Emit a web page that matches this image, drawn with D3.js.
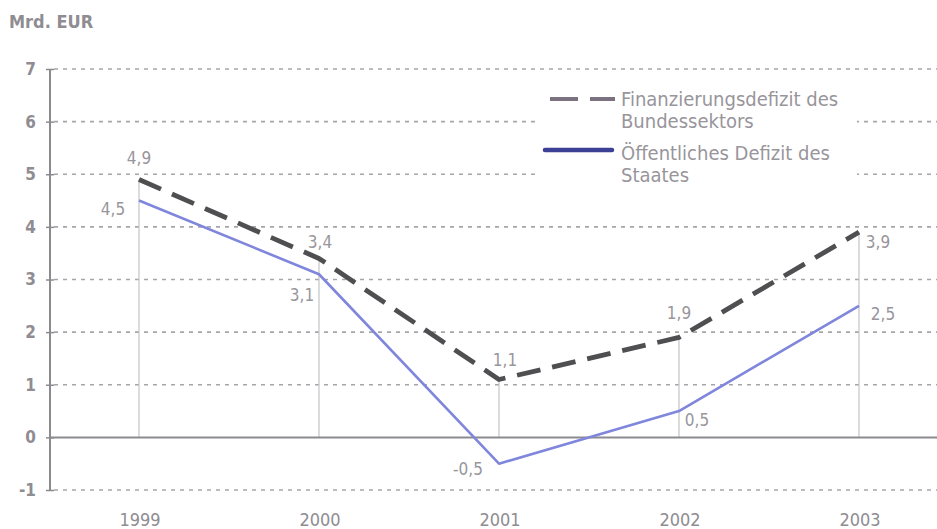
<!DOCTYPE html>
<html>
<head>
<meta charset="utf-8">
<script src="https://cdn.jsdelivr.net/npm/d3@7"></script>
<style>
  html, body { margin: 0; padding: 0; background: #fff; }
  svg { display: block; }
  text { font-family: "DejaVu Sans Condensed", "Open Sans", sans-serif; }
</style>
</head>
<body>
<svg id="chart" width="937" height="529"></svg>
<script>
// Data
const years = ["1999", "2000", "2001", "2002", "2003"];
const bundessektor = [4.9, 3.4, 1.1, 1.9, 3.9];   // Finanzierungsdefizit des Bundessektors
const staat = [4.5, 3.1, -0.5, 0.5, 2.5];          // Öffentliches Defizit des Staates
const yTicks = [-1, 0, 1, 2, 3, 4, 5, 6, 7];
const seriesNames = ["Finanzierungsdefizit des|Bundessektors", "Öffentliches Defizit des|Staates"];

const fmt = v => String(v).replace(".", ",");

const svg = d3.select("#chart");
const W = 937;

const x = d3.scalePoint().domain(years).range([139, 859]);
const y = d3.scaleLinear().domain([-1, 7]).range([490, 69]);

const gridColor = "#a6a6aa";
const textColor = "#98959b";
const axisText = "#8f8c92";

// Horizontal dashed gridlines
svg.append("g").selectAll("line")
  .data(yTicks.filter(t => t !== 0))
  .join("line")
  .attr("x1", 54).attr("x2", W)
  .attr("y1", d => y(d)).attr("y2", d => y(d))
  .attr("stroke", gridColor).attr("stroke-width", 1.6)
  .attr("stroke-dasharray", "4,5");

// Vertical guides from zero up to the upper series
svg.append("g").selectAll("line")
  .data(years)
  .join("line")
  .attr("x1", d => x(d)).attr("x2", d => x(d))
  .attr("y1", y(0)).attr("y2", (d, i) => y(bundessektor[i]))
  .attr("stroke", "#c4c4c8").attr("stroke-width", 1.2);

// Zero line
svg.append("line")
  .attr("x1", 50).attr("x2", W)
  .attr("y1", y(0)).attr("y2", y(0))
  .attr("stroke", "#8c8a8e").attr("stroke-width", 2);

// Y axis
const yAxis = d3.axisLeft(y).tickValues(yTicks).tickSize(6).tickPadding(4)
  .tickFormat(d => d);
const ga = svg.append("g").attr("transform", "translate(50,0)").call(yAxis);
ga.select(".domain").attr("stroke", "#8c8a8e").attr("stroke-width", 2)
  .attr("d", `M0,${y(7)}V${y(-1)}`);
ga.selectAll(".tick line").attr("stroke", "#8c8a8e").attr("stroke-width", 1.5)
  .attr("x1", -4).attr("x2", 4);
ga.selectAll(".tick text").attr("fill", axisText).attr("font-size", 17)
  .attr("font-weight", "bold").attr("x", -14);

// X labels
svg.append("g").selectAll("text")
  .data(years)
  .join("text")
  .attr("x", d => x(d) + 1).attr("y", 526)
  .attr("text-anchor", "middle")
  .attr("fill", axisText).attr("font-size", 18)
  .text(d => d);

// Unit title
svg.append("text")
  .attr("x", 9).attr("y", 28)
  .attr("fill", axisText).attr("font-size", 18).attr("font-weight", "bold")
  .text("Mrd. EUR");

// Lines
const line = d3.line().x((d, i) => x(years[i])).y(d => y(d));

svg.append("path")
  .datum(staat)
  .attr("d", line)
  .attr("fill", "none")
  .attr("stroke", "#7f86dc").attr("stroke-width", 2.6)
  .attr("stroke-linejoin", "round");

svg.append("path")
  .datum(bundessektor)
  .attr("d", line)
  .attr("fill", "none")
  .attr("stroke", "#4f4f51").attr("stroke-width", 4.8)
  .attr("stroke-dasharray", "24,12")
  .attr("stroke-linejoin", "round");

// Value labels (offsets relative to each point)
const lblUpper = [[0, -16], [1, -10], [6, -13], [0, -18], [19, 16]];
const lblLower = [[-26, 14], [-17, 27], [-31, 11], [18, 15], [24, 14]];

svg.append("g").selectAll("text")
  .data(bundessektor)
  .join("text")
  .attr("x", (d, i) => x(years[i]) + lblUpper[i][0])
  .attr("y", (d, i) => y(d) + lblUpper[i][1])
  .attr("text-anchor", "middle")
  .attr("fill", textColor).attr("font-size", 17)
  .text(d => fmt(d));

svg.append("g").selectAll("text")
  .data(staat)
  .join("text")
  .attr("x", (d, i) => x(years[i]) + lblLower[i][0])
  .attr("y", (d, i) => y(d) + lblLower[i][1])
  .attr("text-anchor", "middle")
  .attr("fill", textColor).attr("font-size", 17)
  .text(d => fmt(d));

// Legend
const lg = svg.append("g");
lg.append("rect").attr("x", 540).attr("y", 84).attr("width", 317).attr("height", 112)
  .attr("fill", "#fff");
lg.append("line").attr("x1", 550).attr("x2", 615).attr("y1", 99).attr("y2", 99)
  .attr("stroke", "#7c727f").attr("stroke-width", 4).attr("stroke-dasharray", "28,12");
lg.append("line").attr("x1", 545).attr("x2", 612).attr("y1", 150).attr("y2", 150)
  .attr("stroke", "#3d4196").attr("stroke-width", 4.5).attr("stroke-linecap", "round");

const legendRows = [[621, 106], [621, 160]];
seriesNames.forEach((name, i) => {
  const t = lg.append("text")
    .attr("x", legendRows[i][0]).attr("y", legendRows[i][1])
    .attr("fill", textColor).attr("font-size", 20);
  name.split("|").forEach((part, j) => {
    t.append("tspan").attr("x", legendRows[i][0]).attr("dy", j === 0 ? 0 : 22).text(part);
  });
});
</script>
</body>
</html>
